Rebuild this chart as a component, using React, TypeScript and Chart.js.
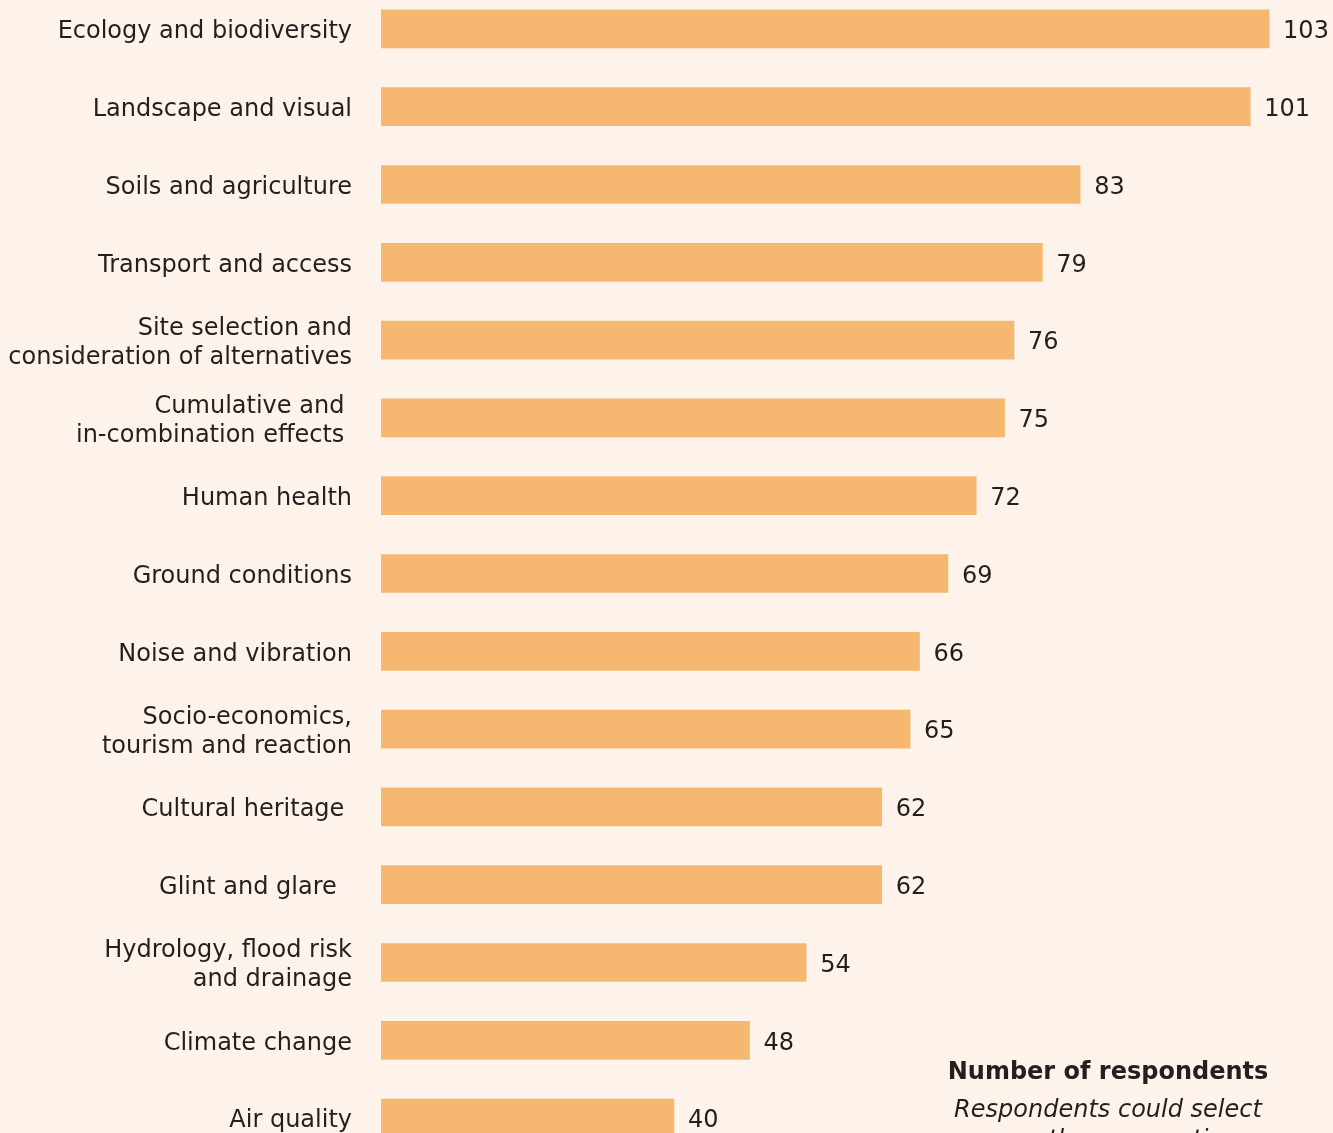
import React, { useEffect, useRef } from "react";
import { Chart, registerables } from "chart.js";

Chart.register(...registerables);

const categories: (string | string[])[] = [
  "Ecology and biodiversity",
  "Landscape and visual",
  "Soils and agriculture",
  "Transport and access",
  ["Site selection and", "consideration of alternatives"],
  ["Cumulative and ", "in-combination effects "],
  "Human health",
  "Ground conditions",
  "Noise and vibration",
  ["Socio-economics,", "tourism and reaction"],
  "Cultural heritage ",
  "Glint and glare  ",
  ["Hydrology, flood risk", "and drainage"],
  "Climate change",
  "Air quality",
];

const respondents: number[] = [103, 101, 83, 79, 76, 75, 72, 69, 66, 65, 62, 62, 54, 48, 40];

const axisMin = 9;
const axisMax = 105;

const noteTitle = "Number of respondents";
const noteLines = ["Respondents could select", "more than one option"];

const BG = "#fdf3ea";
const BAR = "#f6b871";
const TEXT = "#231f20";
const FONT = "'DejaVu Sans', Verdana, sans-serif";

export default function App() {
  const ref = useRef<HTMLCanvasElement | null>(null);

  useEffect(() => {
    const canvas = ref.current;
    if (!canvas) return;

    const valueLabels = {
      id: "valueLabels",
      afterDatasetsDraw(chart: any) {
        const ctx = chart.ctx;
        const meta = chart.getDatasetMeta(0);
        ctx.save();
        ctx.font = `24px ${FONT}`;
        ctx.fillStyle = TEXT;
        ctx.textAlign = "left";
        ctx.textBaseline = "middle";
        meta.data.forEach((bar: any, i: number) => {
          ctx.fillText(String(respondents[i]), bar.x + 14, bar.y + 3);
        });
        ctx.restore();
      },
    };

    const note = {
      id: "note",
      afterDraw(chart: any) {
        const ctx = chart.ctx;
        ctx.save();
        ctx.fillStyle = TEXT;
        ctx.textAlign = "center";
        ctx.textBaseline = "middle";
        ctx.font = `bold 24px ${FONT}`;
        ctx.fillText(noteTitle, 1108, 1083);
        ctx.font = `italic 24px ${FONT}`;
        noteLines.forEach((l, i) => ctx.fillText(l, 1108, 1121 + i * 30));
        ctx.restore();
      },
    };

    const chart = new Chart(canvas, {
      type: "bar",
      data: {
        labels: categories,
        datasets: [
          {
            data: respondents,
            backgroundColor: BAR,
            borderWidth: 0,
            barThickness: 38,
            base: axisMin,
          } as any,
        ],
      },
      options: {
        indexAxis: "y",
        responsive: false,
        animation: false,
        devicePixelRatio: 1,
        layout: { padding: { left: 0, right: 45, top: 0, bottom: 0 } },
        plugins: {
          legend: { display: false },
          tooltip: { enabled: false },
        },
        scales: {
          x: {
            type: "linear",
            display: false,
            min: axisMin,
            max: axisMax,
          },
          y: {
            type: "category",
            grid: { display: false, drawTicks: false },
            border: { display: false },
            ticks: {
              color: TEXT,
              font: { family: FONT, size: 24, lineHeight: 1.2 },
              padding: 29,
              labelOffset: 3,
              autoSkip: false,
            },
            afterFit(scale: any) {
              scale.width = 381;
              scale.paddingTop = 0;
              scale.paddingBottom = 0;
            },
          },
        },
      },
      plugins: [valueLabels, note],
    });

    return () => chart.destroy();
  }, []);

  return (
    <div
      style={{
        position: "fixed",
        left: 0,
        top: 0,
        width: 1333,
        height: 1133,
        overflow: "hidden",
        background: BG,
      }}
    >
      <canvas
        ref={ref}
        width={1333}
        height={1167}
        style={{ position: "absolute", left: 0, top: -10, width: 1333, height: 1167 }}
      />
    </div>
  );
}
